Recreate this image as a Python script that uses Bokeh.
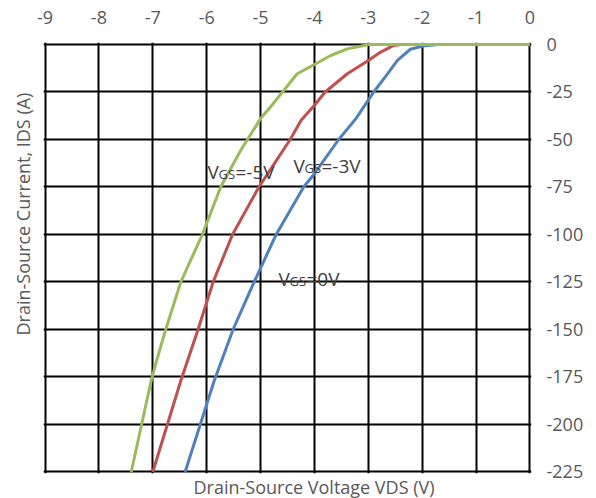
from bokeh.plotting import figure
from bokeh.models import Label, FixedTicker, Title
from bokeh.embed import file_html
from bokeh.resources import INLINE

# Third-quadrant characteristics: drain-source voltage (V) vs drain current (A)
vds_vgs_0 = [0, -1.70, -1.95, -2.22, -2.46, -2.64, -2.90, -3.23, -3.55, -4.00, -4.20,
             -4.71, -5.12, -5.51, -5.86, -6.40]
ids_vgs_0 = [0, 0, -0.6, -2.5, -8.4, -15.3, -25, -39, -50, -68, -75,
             -100, -125, -150, -177, -225]

vds_vgs_m3 = [0, -2.40, -2.53, -2.77, -3.00, -3.39, -3.80, -4.00, -4.25, -4.45, -4.75,
              -5.03, -5.52, -5.88, -6.16, -6.48, -7.00]
ids_vgs_m3 = [0, 0, -0.5, -4, -8.4, -15.4, -25, -32, -40, -50, -63,
              -75, -100, -125, -150, -177, -225]

vds_vgs_m5 = [0, -3.00, -3.08, -3.39, -3.70, -4.00, -4.32, -4.57, -4.82, -5.00, -5.37,
              -5.74, -6.08, -6.48, -6.76, -6.93, -7.03, -7.40]
ids_vgs_m5 = [0, 0, -0.5, -2.3, -5.8, -10.5, -15.4, -24.2, -33, -39, -55.8,
              -75, -100, -125, -150, -166.5, -177, -225]

x_ticks = [-9, -8, -7, -6, -5, -4, -3, -2, -1, 0]
y_ticks = [0, -25, -50, -75, -100, -125, -150, -175, -200, -225]

FONT = "Open Sans"
TICK_GRAY = "#595959"
LABEL_GRAY = "#404040"

FRAME_LEFT, FRAME_TOP = 43, 42
FRAME_W, FRAME_H = 488, 431

p = figure(
    frame_width=FRAME_W, frame_height=FRAME_H,
    x_range=(-9.028, 0.028), y_range=(-225.79, 1.05),
    x_axis_location="above", y_axis_location="right",
    min_border_left=FRAME_LEFT, min_border_top=FRAME_TOP,
    min_border_right=596 - FRAME_LEFT - FRAME_W,
    min_border_bottom=498 - FRAME_TOP - FRAME_H,
    output_backend="svg", toolbar_location=None,
)
p.outline_line_color = None
p.background_fill_color = "white"
p.border_fill_color = "white"

for ax, ticks in ((p.xaxis[0], x_ticks), (p.yaxis[0], y_ticks)):
    ax.ticker = FixedTicker(ticks=ticks)
    ax.major_label_overrides = {t: str(t) for t in ticks}
    ax.axis_line_color = None
    ax.major_tick_line_color = None
    ax.minor_tick_line_color = None
    ax.major_tick_out = 0
    ax.major_tick_in = 0
    ax.minor_tick_out = 0
    ax.major_label_text_font = FONT
    ax.major_label_text_font_size = "18px"
    ax.major_label_text_color = TICK_GRAY
p.xaxis[0].major_label_standoff = 19
p.yaxis[0].major_label_standoff = 15

p.xgrid.ticker = FixedTicker(ticks=x_ticks)
p.ygrid.ticker = FixedTicker(ticks=y_ticks)
for g in (p.xgrid[0], p.ygrid[0]):
    g.grid_line_color = "black"
    g.grid_line_width = 2
    g.grid_line_alpha = 1.0

# curves, VGS = -5 V drawn last so it sits on top along the zero line
p.line(vds_vgs_0, ids_vgs_0, line_color="#4F81BD", line_width=3, line_join="round")
p.line(vds_vgs_m3, ids_vgs_m3, line_color="#C0504D", line_width=3, line_join="round")
p.line(vds_vgs_m5, ids_vgs_m5, line_color="#9BBB59", line_width=3, line_join="round")


def txt(text, px, py, size, color):
    """Place a left-aligned text piece, vertically centred on canvas pixel (px, py)."""
    p.add_layout(Label(
        x=px - FRAME_LEFT, y=FRAME_TOP + FRAME_H - py,
        x_units="screen", y_units="screen",
        text=text, text_font=FONT, text_font_size=f"{size}px",
        text_color=color, text_align="left", text_baseline="middle",
    ))


def vgs_label(value, px, baseline):
    # "V" with a small-caps "GS" suffix, sharing one baseline
    txt("V", px, baseline - 7, 19, LABEL_GRAY)
    txt("GS", px + 11, baseline - 4.5, 13, LABEL_GRAY)
    txt(f"={value}V", px + 28, baseline - 7, 19, LABEL_GRAY)


vgs_label("-5", 207, 178)
vgs_label("-3", 293, 172)
vgs_label("0", 278, 285)

# axis titles
p.add_layout(Title(
    text="Drain-Source Voltage VDS (V)", align="left", offset=150, standoff=0,
    vertical_align="middle", text_baseline="middle",
    text_font=FONT, text_font_size="18px", text_font_style="normal",
    text_color=TICK_GRAY,
), "below")
p.add_layout(Title(
    text="Drain-Source Current, IDS (A)", align="left", offset=138, standoff=16,
    vertical_align="middle", text_baseline="middle",
    text_font=FONT, text_font_size="18px", text_font_style="normal",
    text_color=TICK_GRAY,
), "left")

open("out.html", "w").write(file_html(p, INLINE))
